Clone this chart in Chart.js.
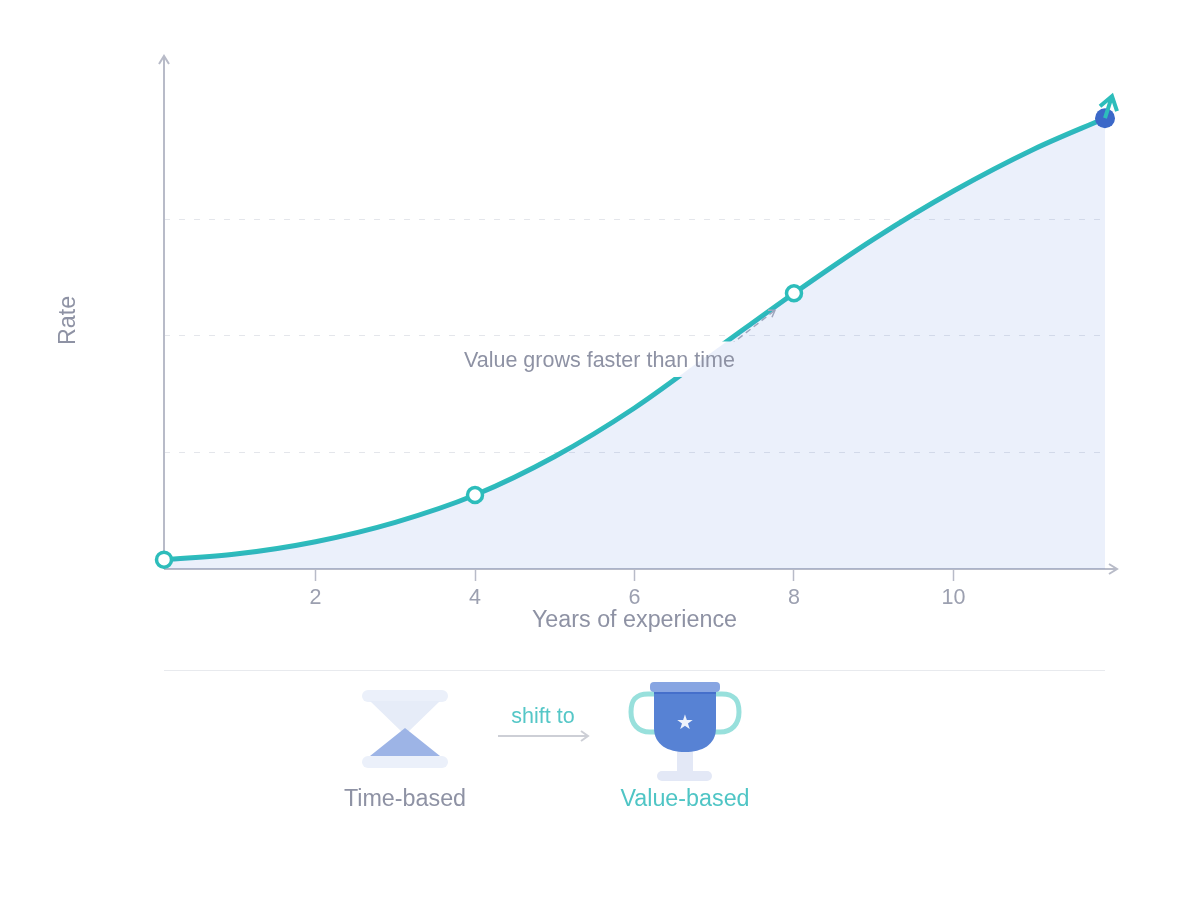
<!DOCTYPE html>
<html>
<head>
<meta charset="utf-8">
<style>
  html, body { margin: 0; padding: 0; background: #fff; }
  #wrap { position: relative; width: 1200px; height: 900px; overflow: hidden; }
  #wrap canvas { position: absolute; left: 0; top: 0; }
  #icons { position: absolute; left: 0; top: 0; }
  #icons text { font-family: "Liberation Sans", Arial, sans-serif; }
</style>
</head>
<body>
<div id="wrap">
  <canvas id="rateChart" width="1200" height="900"></canvas>
  <svg id="icons" width="1200" height="900">
    <line x1="164" y1="670.5" x2="1105" y2="670.5" stroke="#e8eaee" stroke-width="1"/>

    <!-- hourglass -->
    <rect x="362" y="690" width="86" height="12" rx="6" fill="#ebf0fa"/>
    <rect x="362" y="756" width="86" height="12" rx="6" fill="#ebf0fa"/>
    <polygon points="370,701 440,701 405,735" fill="#e6ecf8"/>
    <polygon points="370,756 440,756 405,728" fill="#9db4e6"/>
    <text x="405" y="806" text-anchor="middle" font-size="23.3" fill="#8e92a4">Time-based</text>

    <!-- arrow -->
    <text x="543" y="723" text-anchor="middle" font-size="21.5" fill="#55c7c7">shift to</text>
    <path d="M498 736 H588 M581 731 L588 736 L581 741" fill="none" stroke="#cdcfd6" stroke-width="2"/>

    <!-- trophy -->
    <rect x="677" y="750" width="16" height="24" rx="3" fill="#e3e8f6"/>
    <rect x="657" y="771" width="55" height="10" rx="5" fill="#e3e8f6"/>
    <path d="M656 694 H648 C634 694 631 702 631 712 C631 724 638 732 650 732 H656" fill="none" stroke="#98e0dc" stroke-width="5"/>
    <path d="M714 694 H722 C736 694 739 702 739 712 C739 724 732 732 720 732 H714" fill="none" stroke="#98e0dc" stroke-width="5"/>
    <path d="M654 690 H716 V728 C716 745 702 752 685 752 C668 752 654 745 654 728 Z" fill="#5782d4"/>
    <rect x="654" y="690" width="62" height="4" fill="#456fcb"/>
    <rect x="650" y="682" width="70" height="10" rx="4" fill="#87a5e2"/>
    <text x="685" y="729" text-anchor="middle" font-size="20" fill="#eef2fb">★</text>
    <text x="685" y="806" text-anchor="middle" font-size="23.3" fill="#4fc5c5">Value-based</text>
  </svg>
</div>

<script src="https://cdn.jsdelivr.net/npm/chart.js@4/dist/chart.umd.min.js"></script>
<script>
const years = [0.1, 1, 2, 3, 4, 5, 6, 7, 8, 9, 10, 11, 11.9];
const rate = [2, 3.2, 5.85, 10, 15.85, 24.1, 34.5, 46.8, 59.1, 70.7, 81, 89.9, 96.6];
const markerYears = [0.1, 4, 8, 11.9];
const markerRate = [2, 15.85, 59.1, 96.6];
const xTickValues = [2, 4, 6, 8, 10];
const yGridValues = [25, 50, 75];
const noteText = "Value grows faster than time";

const axisColor = "#b8bbc8";
const tealLine = "#2dbdbb";
const LINE_DATASET = 2;

// axes with arrow heads, they stay under the curve and markers
const axesArrows = {
  id: "axesArrows",
  beforeDatasetsDraw(chart) {
    const { ctx, chartArea } = chart;
    const top = chartArea.top - 16;
    ctx.save();
    ctx.strokeStyle = axisColor;
    ctx.lineWidth = 2;
    ctx.beginPath();
    ctx.moveTo(chartArea.left, chartArea.bottom);
    ctx.lineTo(chartArea.left, top);
    ctx.moveTo(chartArea.left - 5, top + 8);
    ctx.lineTo(chartArea.left, top);
    ctx.lineTo(chartArea.left + 5, top + 8);
    ctx.moveTo(chartArea.left, chartArea.bottom);
    ctx.lineTo(chartArea.right + 12, chartArea.bottom);
    ctx.moveTo(chartArea.right + 4, chartArea.bottom - 5);
    ctx.lineTo(chartArea.right + 12, chartArea.bottom);
    ctx.lineTo(chartArea.right + 4, chartArea.bottom + 5);
    ctx.stroke();
    ctx.restore();
  }
};

// the white note backing cuts the line only, the area is drawn after it
const noteBacking = {
  id: "noteBacking",
  afterDatasetDraw(chart, args) {
    if (args.index !== LINE_DATASET) return;
    const { ctx, scales } = chart;
    const px = scales.x.getPixelForValue(8);
    const py = scales.y.getPixelForValue(59.1);
    ctx.save();

    // small dashed arrow next to the 8 year marker
    ctx.strokeStyle = "#a9adbb";
    ctx.lineWidth = 1.5;
    ctx.setLineDash([6, 4]);
    ctx.beginPath();
    ctx.moveTo(px - 64, py + 52);
    ctx.lineTo(px - 19, py + 17);
    ctx.stroke();
    ctx.setLineDash([]);
    ctx.beginPath();
    ctx.moveTo(px - 26, py + 17);
    ctx.lineTo(px - 19, py + 17);
    ctx.lineTo(px - 22, py + 24);
    ctx.stroke();

    const cx = scales.x.getPixelForValue(5.56);
    const cy = scales.y.getPixelForValue(44.95);
    ctx.fillStyle = "#fff";
    ctx.fillRect(cx - 139, cy - 17.75, 278, 35.5);
    ctx.restore();
  }
};

// note text and the teal arrow go on top of everything
const topLayer = {
  id: "topLayer",
  afterDraw(chart) {
    const { ctx, scales } = chart;
    const x = scales.x;
    const y = scales.y;
    ctx.save();
    ctx.font = '21.5px "Liberation Sans"';
    ctx.fillStyle = "#8e92a4";
    ctx.textAlign = "center";
    ctx.textBaseline = "middle";
    ctx.fillText(noteText, x.getPixelForValue(5.56), y.getPixelForValue(44.6));

    const ex = x.getPixelForValue(years[years.length - 1]);
    const ey = y.getPixelForValue(rate[rate.length - 1]);
    ctx.strokeStyle = tealLine;
    ctx.lineWidth = 4;
    ctx.beginPath();
    ctx.moveTo(ex, ey);
    ctx.lineTo(ex + 7, ey - 22);
    ctx.moveTo(ex - 5, ey - 12);
    ctx.lineTo(ex + 7, ey - 22);
    ctx.lineTo(ex + 12, ey - 7);
    ctx.stroke();
    ctx.restore();
  }
};

const curve = years.map((v, i) => ({ x: v, y: rate[i] }));

new Chart(document.getElementById("rateChart"), {
  type: "line",
  data: {
    datasets: [
      {
        label: "Milestones",
        data: markerYears.map((v, i) => ({ x: v, y: markerRate[i] })),
        showLine: false,
        clip: false,
        pointRadius: (c) => (c.dataIndex === 3 ? 10 : 7.5),
        pointBorderWidth: (c) => (c.dataIndex === 3 ? 0 : 3.5),
        pointBackgroundColor: (c) => (c.dataIndex === 3 ? "#3b68c8" : "#fff"),
        pointBorderColor: tealLine,
        order: 0
      },
      {
        label: "Area",
        data: curve,
        borderWidth: 0,
        backgroundColor: "rgba(62, 110, 220, 0.105)",
        fill: "origin",
        pointRadius: 0,
        cubicInterpolationMode: "monotone",
        order: 1
      },
      {
        label: "Rate",
        data: curve,
        borderColor: tealLine,
        borderWidth: 5,
        fill: false,
        pointRadius: 0,
        cubicInterpolationMode: "monotone",
        clip: false,
        order: 2
      }
    ]
  },
  options: {
    responsive: false,
    animation: false,
    layout: { padding: { left: 54.5, top: 72, right: 95, bottom: 262 } },
    plugins: { legend: { display: false }, tooltip: { enabled: false } },
    scales: {
      x: {
        type: "linear",
        min: 0.1,
        max: 11.9,
        afterFit: (axis) => { axis.height = 69; },
        afterBuildTicks: (axis) => { axis.ticks = xTickValues.map((v) => ({ value: v })); },
        border: { display: false },
        grid: { drawOnChartArea: false, tickLength: 12, tickColor: axisColor, tickWidth: 1.5 },
        ticks: { color: "#9ca0b0", font: { family: "Liberation Sans", size: 21.5 }, padding: 4, maxRotation: 0, autoSkip: false },
        title: { display: true, text: "Years of experience", color: "#8e92a4", font: { family: "Liberation Sans", size: 23.3 }, padding: { top: 0, bottom: 3 } }
      },
      y: {
        min: 0,
        max: 106.5,
        afterFit: (axis) => { axis.width = 109.5; },
        afterBuildTicks: (axis) => { axis.ticks = yGridValues.map((v) => ({ value: v })); },
        border: { display: false, dash: [6, 9] },
        grid: { color: "#e4e6eb", lineWidth: 1, drawTicks: false },
        ticks: { display: false },
        title: { display: true, text: "Rate", color: "#8e92a4", font: { family: "Liberation Sans", size: 23.3 }, padding: 0 }
      }
    }
  },
  plugins: [axesArrows, noteBacking, topLayer]
});
</script>
</body>
</html>
